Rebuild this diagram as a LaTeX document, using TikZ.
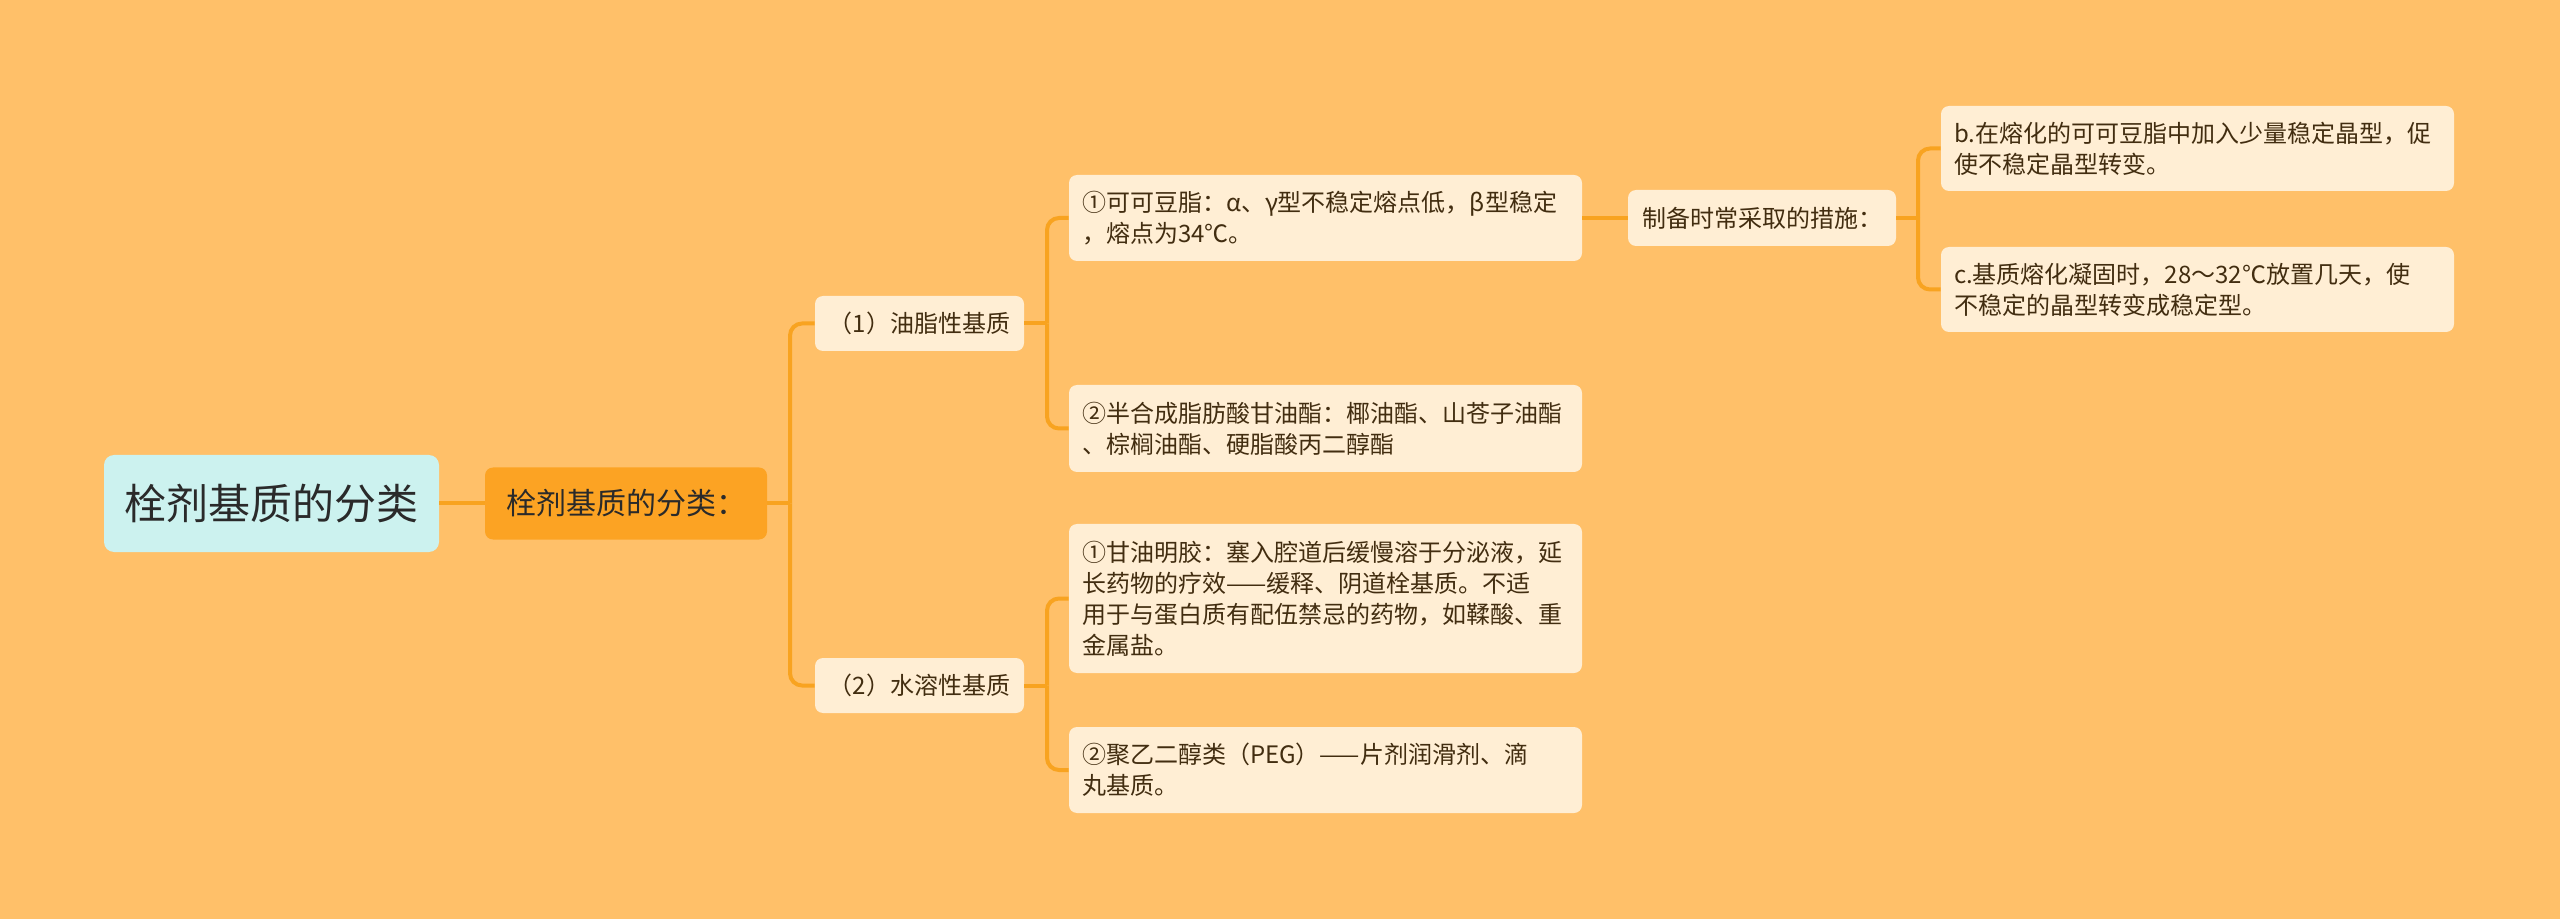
\documentclass[tikz,border=0pt]{standalone}
\usepackage{fontspec}
\setmainfont{Noto Sans CJK SC}
\definecolor{bgc}{RGB}{255,192,105}
\definecolor{rootfill}{RGB}{204,242,239}
\definecolor{catfill}{RGB}{252,163,35}
\definecolor{leaffill}{RGB}{255,238,212}
\definecolor{linkc}{RGB}{248,163,32}
\definecolor{leaftext}{RGB}{66,45,16}
\definecolor{roottext}{RGB}{42,42,42}
\begin{document}
\begin{tikzpicture}[x=0.5pt,y=-0.5pt,
  leafbox/.style={rectangle, rounded corners=4pt, fill=leaffill, text=leaftext,
    font=\fontsize{12pt}{15.5pt}\selectfont, inner sep=0pt},
  widebox/.style={leafbox, text width=243.5pt, inner xsep=6.5pt, align=left, minimum height=43pt},
  link/.style={draw=linkc, line width=2pt, rounded corners=6pt}]
\fill[bgc] (0,0) rectangle (2560,919);
\useasboundingbox (0,0) rectangle (2560,919);

\node[rectangle, rounded corners=5pt, fill=rootfill, text=roottext,
  font=\fontsize{21pt}{25pt}\selectfont, minimum width=167.5pt, minimum height=48.5pt, inner sep=0pt]
  (root) at (271.5,503.5) {栓剂基质的分类};
\node[rectangle, rounded corners=4pt, fill=catfill, text=roottext,
  font=\fontsize{15pt}{18pt}\selectfont, minimum width=141pt, minimum height=36pt, inner sep=0pt]
  (cat) at (626,503.5) {栓剂基质的分类：};

\node[leafbox, minimum width=104.5pt, minimum height=27.5pt] (oil) at (919.5,323.5) {（1）油脂性基质};
\node[leafbox, minimum width=104.5pt, minimum height=27.5pt] (water) at (919.5,685.5) {（2）水溶性基质};

\node[widebox] (cocoa) at (1325.5,218) {①可可豆脂：α、γ型不稳定熔点低，β型稳定\\，熔点为34℃。};
\node[widebox, minimum height=43.5pt] (semi) at (1325.5,428.5) {②半合成脂肪酸甘油酯：椰油酯、山苍子油酯\\、棕榈油酯、硬脂酸丙二醇酯};
\node[widebox, minimum height=74.5pt] (gel) at (1325.5,598.5) {①甘油明胶：塞入腔道后缓慢溶于分泌液，延\\长药物的疗效——缓释、阴道栓基质。不适\\用于与蛋白质有配伍禁忌的药物，如鞣酸、重\\金属盐。};
\node[widebox] (peg) at (1325.5,770) {②聚乙二醇类（PEG）——片剂润滑剂、滴\\丸基质。};

\node[leafbox, minimum width=134pt, minimum height=28pt] (measure) at (1762,218) {制备时常采取的措施：};
\node[widebox, minimum height=42.5pt] (mb) at (2197.5,148.5) {b.在熔化的可可豆脂中加入少量稳定晶型，促\\使不稳定晶型转变。};
\node[widebox, minimum height=42.5pt] (mc) at (2197.5,289.5) {c.基质熔化凝固时，28～32℃放置几天，使\\不稳定的晶型转变成稳定型。};

\coordinate (j1) at (790,503.5);
\coordinate (j2) at (1047,323.5);
\coordinate (j3) at (1047,685.5);
\coordinate (j4) at (1918,218);

\draw[link] (root.east) -- (cat.west);
\draw[link] (cat.east) -- (j1);
\draw[link] (j1) |- (oil.west);
\draw[link] (j1) |- (water.west);
\draw[link] (oil.east) -- (j2);
\draw[link] (j2) |- (cocoa.west);
\draw[link] (j2) |- (semi.west);
\draw[link] (water.east) -- (j3);
\draw[link] (j3) |- (gel.west);
\draw[link] (j3) |- (peg.west);
\draw[link] (cocoa.east) -- (measure.west);
\draw[link] (measure.east) -- (j4);
\draw[link] (j4) |- (mb.west);
\draw[link] (j4) |- (mc.west);
\end{tikzpicture}
\end{document}
